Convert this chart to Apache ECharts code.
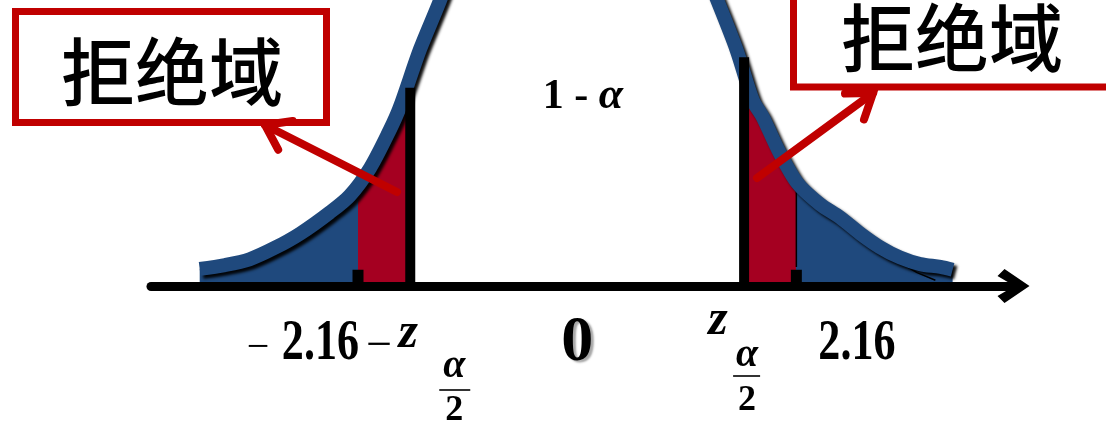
<!DOCTYPE html>
<html>
<head>
<meta charset="utf-8">
<script src="https://cdn.jsdelivr.net/npm/echarts@6/dist/echarts.min.js"></script>
<style>
  html, body { margin: 0; padding: 0; background: #fff; }
  #chart { width: 1106px; height: 422px; }
</style>
</head>
<body>
<div id="chart"></div>
<script>
// Sampling distribution of the test statistic (z units) with two-sided rejection regions.
const curveX = [-3.72, -3.47, -3.23, -2.98, -2.73, -2.44, -2.24, -2.04, -1.85, -1.75, -1.55, -1.35, -1.0, -0.5, 0,
                0.5, 1.0, 1.38, 1.57, 1.73, 1.83, 1.98, 2.17, 2.39, 2.59, 2.79, 2.98, 3.18, 3.38, 3.58, 3.70];
const curveY = [0.018, 0.022, 0.028, 0.040, 0.055, 0.077, 0.095, 0.124, 0.163, 0.187, 0.248, 0.300, 0.40, 0.50, 0.53,
                0.50, 0.40, 0.300, 0.248, 0.195, 0.177, 0.143, 0.108, 0.086, 0.072, 0.055, 0.041, 0.030, 0.023, 0.020, 0.017];

// critical value z_{α/2} and the observed statistic ±2.16
const zCrit = 1.645;
const observed = 2.16;
const critLineTops = [0.208, 0.240];
const observedMarkTop = 0.017;

// thin outline inside the right tail
const outlineX = [2.16, 2.16, 2.71, 3.35, 3.53];
const outlineY = [0.02, 0.104, 0.054, 0.014, 0.006];

const regionLabel = '拒绝域';

const BLUE = '#1F497D';
const RED = '#A50021';
const ARROW_RED = '#C00000';
const SERIF = 'Liberation Serif';

const curve = curveX.map((x, i) => [x, curveY[i]]);
const outline = outlineX.map((x, i) => [x, outlineY[i]]);

const vSeg = (x, top, width, z) => ({
  type: 'line', data: [[x, 0], [x, top]], showSymbol: false, silent: true,
  lineStyle: { color: '#000', width: width, cap: 'butt' }, z: z
});

const series = [
  {
    type: 'line', name: 'tails', data: curve, smooth: 0.3, showSymbol: false, silent: true,
    lineStyle: { width: 0 }, areaStyle: { opacity: 1 }, z: 1
  },
  {
    type: 'line', name: 'outline', data: outline, showSymbol: false, silent: true,
    lineStyle: { color: '#000', width: 1.5 }, z: 2
  },
  {
    type: 'line', name: 'density', data: curve, smooth: 0.3, showSymbol: false, silent: true,
    lineStyle: {
      color: BLUE, width: 14,
      shadowColor: 'rgba(0,0,0,0.95)', shadowBlur: 3, shadowOffsetX: 3, shadowOffsetY: 3
    },
    z: 3
  },
  vSeg(-zCrit, critLineTops[0], 10, 4),
  vSeg(zCrit, critLineTops[1], 10, 4),
  vSeg(-observed, observedMarkTop, 11, 4),
  vSeg(observed, observedMarkTop, 11, 4)
];

const chevron = 'path://M17 0 L34 25 L27 32 L17 15 L7 32 L0 25 Z';

const option = {
  animation: false,
  backgroundColor: '#fff',
  grid: { left: 151, right: 92.5, top: 0, bottom: 136 },
  xAxis: {
    type: 'value', min: -4.2, max: 4.3, z: 5,
    axisLine: {
      show: true, onZero: false,
      symbol: ['none', chevron], symbolSize: [34, 32],
      lineStyle: { color: '#000', width: 9 }
    },
    axisTick: { show: false }, axisLabel: { show: false }, splitLine: { show: false }
  },
  yAxis: { type: 'value', min: 0, max: 0.3, show: false },
  visualMap: {
    show: false, type: 'piecewise', seriesIndex: 0, dimension: 0,
    pieces: [
      { lt: -observed, color: BLUE },
      { gte: -observed, lt: -zCrit, color: RED },
      { gte: -zCrit, lte: zCrit, color: 'rgba(255,255,255,0)' },
      { gt: zCrit, lte: observed, color: RED },
      { gt: observed, color: BLUE }
    ]
  },
  series: series
};

const chart = echarts.init(document.getElementById('chart'));
chart.setOption(option);

const toPx = (x, y) => chart.convertToPixel({ gridIndex: 0 }, [x, y]);
const baseY = toPx(0, 0)[1];

// text element helper: f = [size, weight, style, family]
function text(x, y, str, f, align, extra) {
  return {
    type: 'text', x: x, y: y, z: 50,
    style: Object.assign({
      text: str, fill: '#000',
      fontSize: f[0], fontWeight: f[1], fontStyle: f[2], fontFamily: f[3],
      align: align, textAlign: align, verticalAlign: 'middle', textVerticalAlign: 'middle'
    }, extra || {})
  };
}

function arrow(tail, tip) {
  const dx = tip[0] - tail[0], dy = tip[1] - tail[1];
  const len = Math.hypot(dx, dy);
  const ux = dx / len, uy = dy / len;
  const a = 35 * Math.PI / 180, L = 28;
  const c = Math.cos(a), s = Math.sin(a);
  const b1 = [tip[0] - L * (ux * c - uy * s), tip[1] - L * (ux * s + uy * c)];
  const b2 = [tip[0] - L * (ux * c + uy * s), tip[1] - L * (-ux * s + uy * c)];
  const st = { stroke: ARROW_RED, lineWidth: 8, lineCap: 'round', lineJoin: 'miter', fill: null };
  return [
    { type: 'polyline', z: 60, shape: { points: [tail, tip] }, style: st },
    { type: 'polyline', z: 60, shape: { points: [b1, tip, b2] }, style: st }
  ];
}

const xNegObs = toPx(-observed, 0)[0];
const xPosObs = toPx(observed, 0)[0];
const xNegCrit = toPx(-zCrit, 0)[0];
const xPosCrit = toPx(zCrit, 0)[0];
const xZero = toPx(0, 0)[0];

const numF = [58, 'bold', 'normal', SERIF];
const zF = [50, 'bold', 'italic', SERIF];
const aF = [40, 'bold', 'italic', SERIF];
const twoF = [36, 'bold', 'normal', SERIF];
const minusF = [46, 'normal', 'normal', SERIF];
const cjkF = [74, 500, 'normal', 'Noto Sans CJK SC'];

const graphics = [
  // rejection-region callouts
  { type: 'rect', z: 40, shape: { x: 15.5, y: 11.5, width: 311, height: 111 },
    style: { fill: '#fff', stroke: ARROW_RED, lineWidth: 7 } },
  text(172, 72, regionLabel, cjkF, 'center'),
  { type: 'rect', z: 40, shape: { x: 793.5, y: -30, width: 340, height: 117 },
    style: { fill: '#fff', stroke: ARROW_RED, lineWidth: 7 } },
  text(952, 38, regionLabel, cjkF, 'center'),

  // acceptance region label
  text(583, 97, '{n|1 - }{g|α}', [42, 'bold', 'normal', SERIF], 'center', {
    rich: {
      n: { fontSize: 42, fontWeight: 'bold', fontFamily: SERIF, fill: '#000' },
      g: { fontSize: 44, fontWeight: 'bold', fontStyle: 'italic', fontFamily: SERIF, fill: '#000' }
    }
  }),

  // −2.16
  text(xNegObs - 100, baseY + 62, '−', [40, 'normal', 'normal', SERIF], 'center'),
  Object.assign(text(xNegObs + 1, baseY + 58, '2.16', numF, 'right'), { scaleX: 0.76 }),
  // 2.16
  Object.assign(text(xPosObs + 22, baseY + 58, '2.16', numF, 'left'), { scaleX: 0.76 }),
  // 0
  text(xZero, baseY + 57, '0', [64, 'bold', 'normal', SERIF], 'center',
    { textShadowColor: 'rgba(0,0,0,0.35)', textShadowOffsetX: 3, textShadowOffsetY: 2, textShadowBlur: 2 }),

  // −z_{α/2}
  text(xNegCrit - 31, baseY + 61, '−', minusF, 'center'),
  text(xNegCrit - 2, baseY + 48, 'z', zF, 'center'),
  text(xNegCrit + 44, baseY + 81, 'α', aF, 'center'),
  { type: 'line', z: 50, shape: { x1: xNegCrit + 29, y1: baseY + 104, x2: xNegCrit + 60, y2: baseY + 104 },
    style: { stroke: '#333', lineWidth: 2 } },
  text(xNegCrit + 44, baseY + 125, '2', twoF, 'center'),

  // z_{α/2}
  text(xPosCrit - 26, baseY + 35, 'z', zF, 'center'),
  text(xPosCrit + 3, baseY + 70, 'α', aF, 'center'),
  { type: 'line', z: 50, shape: { x1: xPosCrit - 11, y1: baseY + 90, x2: xPosCrit + 16, y2: baseY + 90 },
    style: { stroke: '#333', lineWidth: 2 } },
  text(xPosCrit + 3, baseY + 115, '2', twoF, 'center')
].concat(arrow([397, 192], [265, 125]), arrow([757, 178], [873, 93]));

chart.setOption({ graphic: graphics });
</script>
</body>
</html>
